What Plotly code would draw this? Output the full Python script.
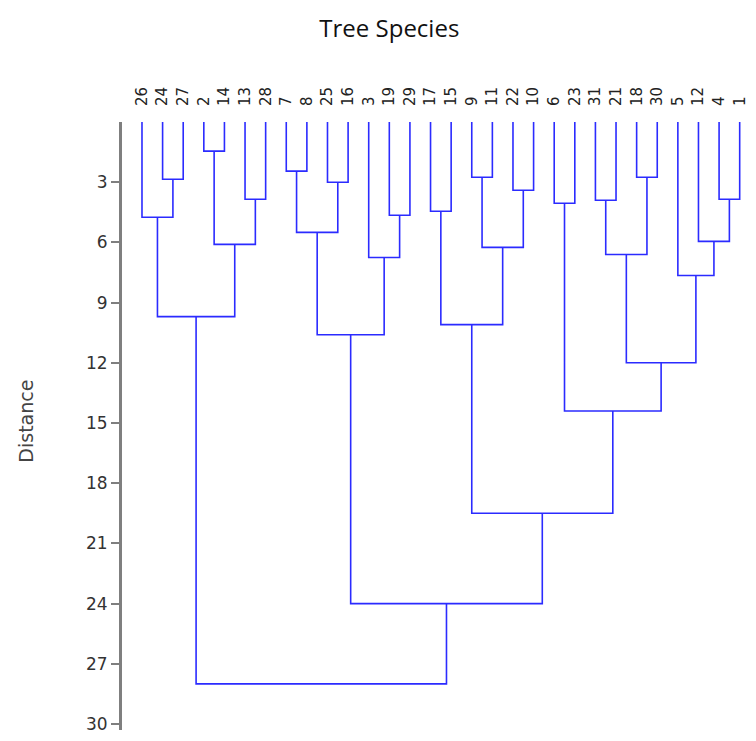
import plotly.graph_objects as go

# Leaf labels (left to right)
leaf_labels = ["26", "24", "27", "2", "14", "13", "28", "7", "8", "25",
               "16", "3", "19", "29", "17", "15", "9", "11", "22", "10",
               "6", "23", "31", "21", "18", "30", "5", "12", "4", "1"]

# Merges: pairs of node ids (leaves 0..29, clusters numbered from 30 upward)
merge_left = [1, 0, 3, 5, 32, 31, 7, 9, 36, 12, 11, 38, 14, 16, 18, 43, 42,
              20, 22, 24, 48, 28, 27, 26, 50, 47, 46, 41, 35]
merge_right = [2, 30, 4, 6, 33, 34, 8, 10, 37, 13, 39, 40, 15, 17, 19, 44, 45,
               21, 23, 25, 49, 29, 51, 52, 53, 54, 55, 56, 57]
merge_height = [2.85, 4.75, 1.45, 3.85, 6.1, 9.7, 2.45, 3.0, 5.5, 4.65, 6.75,
                10.6, 4.45, 2.75, 3.4, 6.25, 10.1, 4.05, 3.9, 2.75, 6.6, 3.85,
                5.95, 7.65, 12.0, 14.4, 19.5, 24.0, 28.0]

y_ticks = [3, 6, 9, 12, 15, 18, 21, 24, 27, 30]

n = len(leaf_labels)
pos = {i: float(i) for i in range(n)}
hgt = {i: 0.0 for i in range(n)}
xs, ys = [], []
for k, (a, b, h) in enumerate(zip(merge_left, merge_right, merge_height)):
    node = n + k
    xs += [pos[a], pos[a], pos[b], pos[b], None]
    ys += [hgt[a], h, h, hgt[b], None]
    pos[node] = (pos[a] + pos[b]) / 2
    hgt[node] = h

fig = go.Figure()
fig.add_trace(go.Scatter(x=xs, y=ys, mode="lines",
                         line=dict(color="#2b2bff", width=1.6),
                         hoverinfo="skip", showlegend=False))

fig.add_annotation(text="Distance", xref="paper", yref="paper",
                   x=-0.152, y=0.508, xanchor="center", yanchor="middle",
                   textangle=-90, showarrow=False,
                   font=dict(family="DejaVu Sans, sans-serif", size=19,
                             color="#444"))

fig.update_layout(
    width=756, height=741,
    margin=dict(l=122, r=6, t=122, b=11),
    paper_bgcolor="white", plot_bgcolor="white",
    title=dict(text="Tree Species", x=0.515, xanchor="center", y=0.962,
               yanchor="middle",
               font=dict(family="Open Sans, Liberation Sans, sans-serif",
                         size=24, color="#111")),
    xaxis=dict(side="top", range=[-0.97, 29.5], showgrid=False,
               zeroline=False, showline=False, automargin=False,
               tickmode="array", tickvals=list(range(n)), ticktext=leaf_labels,
               tickangle=-90, ticks="", ticklabelstandoff=15,
               tickfont=dict(family="DejaVu Sans, sans-serif", size=15,
                             color="#222")),
    yaxis=dict(range=[30.3, 0], showgrid=False, zeroline=False,
               automargin=False,
               showline=True, linecolor="#7f7f7f", linewidth=3,
               ticks="outside", ticklen=8, tickwidth=2, tickcolor="#7f7f7f",
               tickmode="array", tickvals=y_ticks,
               tickfont=dict(family="DejaVu Sans, sans-serif", size=17,
                             color="#333")),
)

fig.write_html("out.html", config={"displayModeBar": False},
               post_script="document.body.style.margin='0';")
